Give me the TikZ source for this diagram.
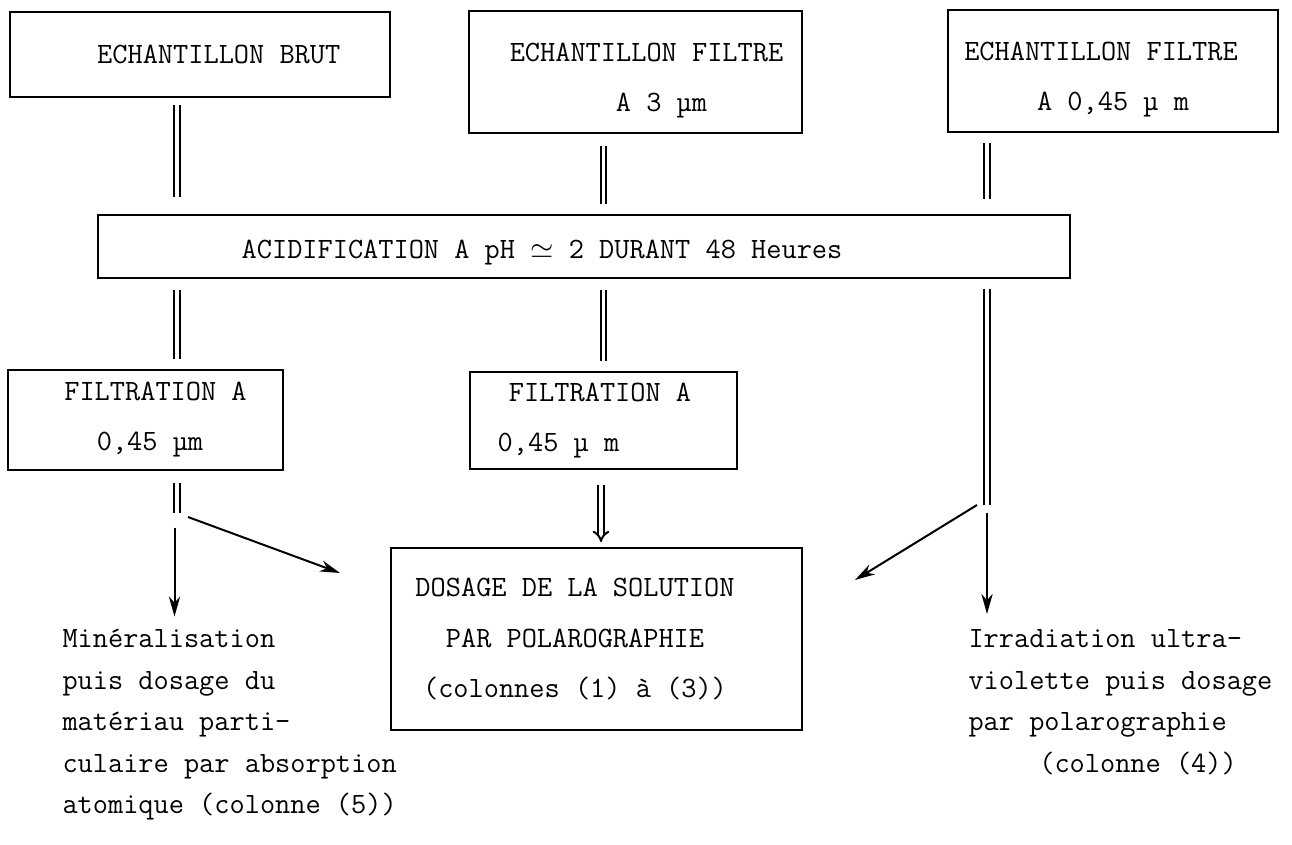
\documentclass[tikz,border=0pt]{standalone}
\usepackage{fontspec}
\usetikzlibrary{arrows.meta, positioning}
\newcommand{\headroom}[1]{\rule{0pt}{#1}}

\begin{document}
\begin{tikzpicture}[
    x=0.4pt, y=-0.4pt,
    every node/.style={font=\ttfamily\fontsize{11.8}{20}\selectfont},
    box/.style={rectangle, draw, line width=0.7pt, align=center, inner sep=0pt},
    result/.style={align=left, inner sep=0pt, anchor=north west, font=\ttfamily\fontsize{11.8}{16.6}\selectfont},
    dbl/.style={double, double distance=1.4pt, line width=0.8pt},
    arrow/.style={-{Stealth[length=8pt, width=4.5pt, inset=2.5pt]}, line width=0.8pt},
    dblarrow/.style={dbl, -{Implies[length=6pt]}},
]
\useasboundingbox (0,0) rectangle (1292,845);

% === Samples ===
\node[box, minimum width=152pt, minimum height=34pt] (brut) at (200,54.5)
    {\hspace*{15pt}ECHANTILLON BRUT};
\node[box, minimum width=133.2pt, minimum height=48.8pt] (f3) at (635.5,72)
    {\headroom{14.5pt}\hspace*{8.8pt}ECHANTILLON FILTRE\\\hspace*{20.8pt}A 3 µm};
\node[box, minimum width=132pt, minimum height=48.8pt] (f045) at (1113,71)
    {\headroom{14.5pt}\hspace*{-9.6pt}ECHANTILLON FILTRE\\A 0,45 µ m};

% === Acidification ===
\node[box, minimum width=388.8pt, minimum height=25.2pt] (acid) at (584,246.5)
    {\headroom{12.5pt}\hspace*{-33.6pt}ACIDIFICATION A pH $\simeq$ 2 DURANT 48 Heures};

% === Filtrations ===
\node[box, minimum width=110pt, minimum height=40pt] (filt1) at (145.5,420)
    {\hspace*{8pt}FILTRATION A\\\hspace*{3.6pt}0,45 µm};
\node[box, minimum width=106.8pt, minimum height=38.8pt] (filt2) at (603.5,420.5)
    {\hspace*{-2.8pt}FILTRATION A\\\hspace*{-36pt}0,45 µ m};

% === Measurement ===
\node[box, minimum width=164.4pt, minimum height=72.8pt] (dosage) at (596.5,639)
    {\hspace*{-17.2pt}DOSAGE DE LA SOLUTION\\\hspace*{-17.2pt}PAR POLAROGRAPHIE\\\hspace*{-17.2pt}(colonnes (1) à (3))};

\node[result] (mineral) at (62,629)
    {Minéralisation\\puis dosage du\\matériau parti-\\culaire par absorption\\atomique (colonne (5))};
\node[result] (uv) at (968,629)
    {Irradiation ultra-\\violette puis dosage\\par polarographie\\\hspace*{2.4em}(colonne (4))};

% split points
\coordinate (j1) at (177,515);
\coordinate (j3) at (987,505);
\coordinate (d1) at (340,573);
\coordinate (d3) at (855,580);

% === Column 1 ===
\draw[dbl, shorten <=3pt, shorten >=7pt] (j1 |- brut.south) -- (j1 |- acid.north);
\draw[dbl, shorten <=4.5pt, shorten >=4pt] (j1 |- acid.south) -- (j1 |- filt1.north);
\draw[dbl, shorten <=5pt, shorten >=1pt] (j1 |- filt1.south) -- (j1);
\draw[arrow, shorten <=5pt, shorten >=5pt] ([xshift=-1pt]j1) -- ([xshift=-1pt]j1 |- mineral.north);
\draw[arrow] ([shift={(11,2)}]j1) -- (d1);

% === Column 2 ===
\draw[dbl, shorten <=5pt, shorten >=4pt] (filt2 |- f3.south) -- (filt2 |- acid.north);
\draw[dbl, shorten <=4.5pt, shorten >=4pt] (filt2 |- acid.south) -- (filt2.north);
\draw[dblarrow, shorten <=6pt, shorten >=2pt] ([xshift=-1pt]filt2.south) -- ([xshift=-1pt]filt2 |- dosage.north);

% === Column 3 ===
\draw[dbl, shorten <=4pt, shorten >=6pt] (j3 |- f045.south) -- (j3 |- acid.north);
\draw[dbl, shorten <=4pt] (j3 |- acid.south) -- (j3);
\draw[arrow, shorten <=3pt, shorten >=6pt] (j3) -- (j3 |- uv.north);
\draw[arrow] ([xshift=-4pt]j3) -- (d3);

\end{tikzpicture}
\end{document}
